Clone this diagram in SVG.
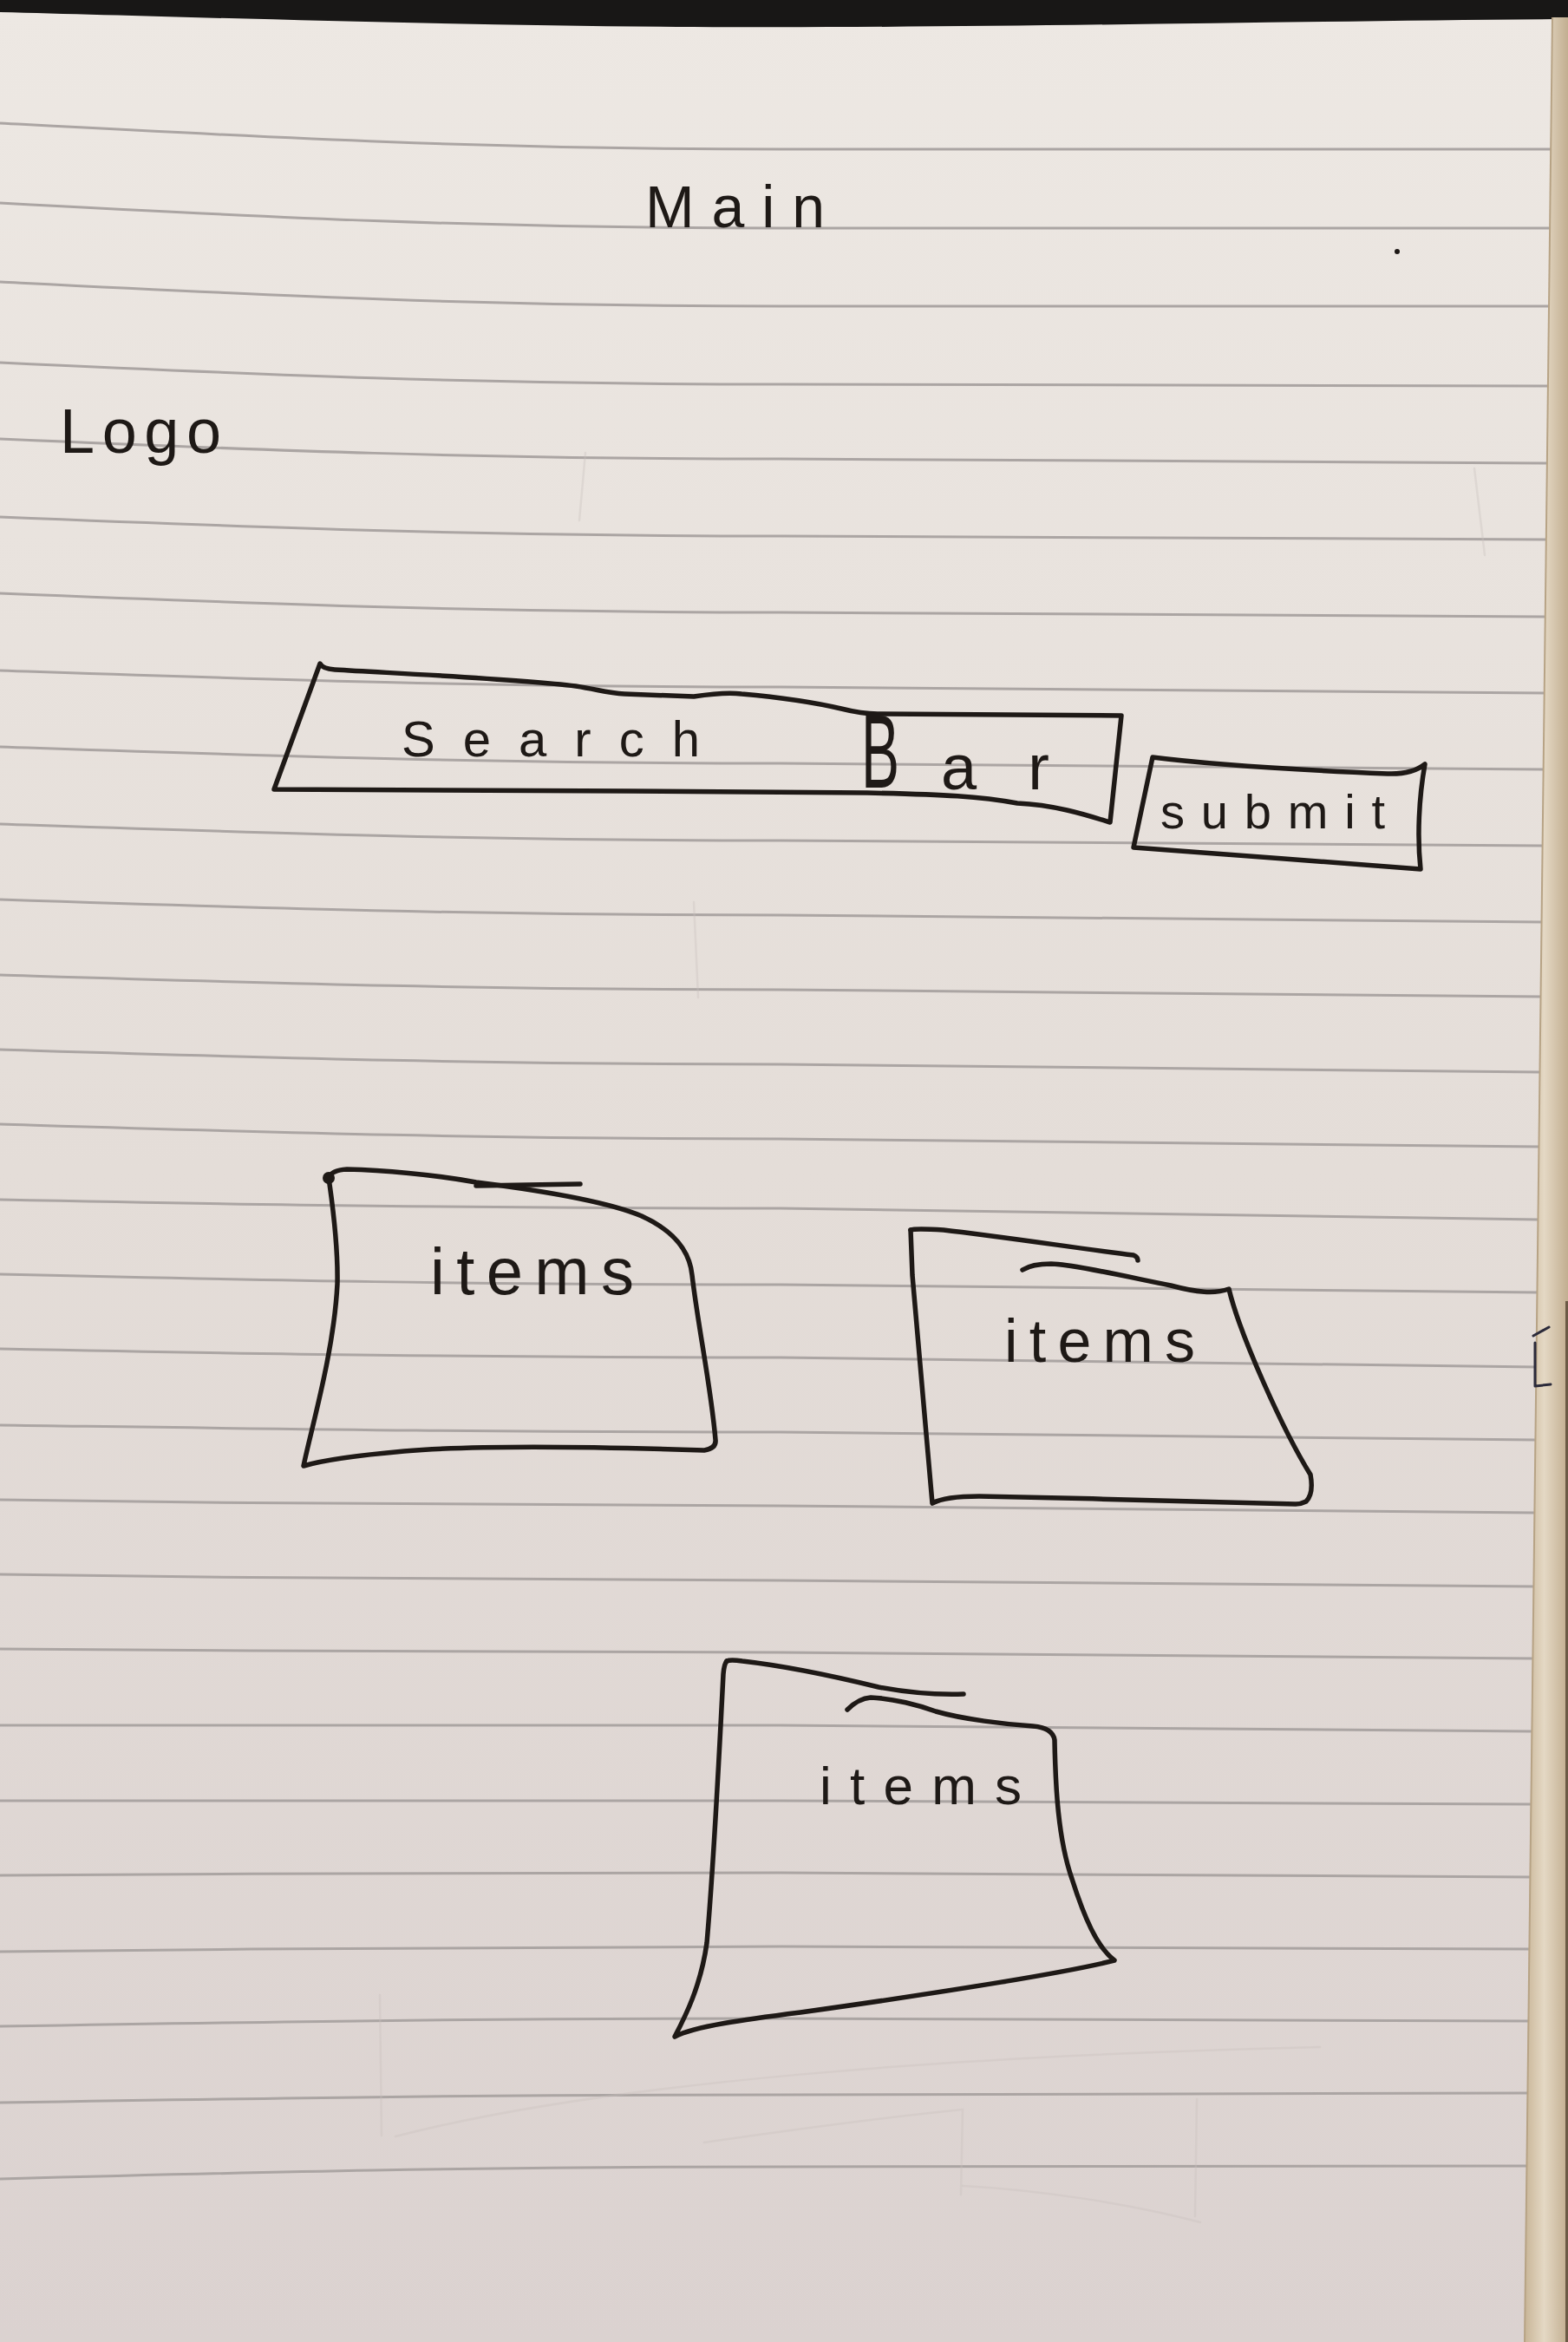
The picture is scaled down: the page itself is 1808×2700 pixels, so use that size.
<svg xmlns="http://www.w3.org/2000/svg" width="1808" height="2700" viewBox="0 0 1808 2700">
  <defs>
    <linearGradient id="paper" x1="0" y1="0" x2="0" y2="1">
      <stop offset="0" stop-color="#ede8e3"/>
      <stop offset="0.5" stop-color="#e4ddd8"/>
      <stop offset="1" stop-color="#dbd2d0"/>
    </linearGradient>
    <linearGradient id="pageEdge" x1="0" y1="0" x2="1" y2="0">
      <stop offset="0" stop-color="#c8b597"/>
      <stop offset="0.45" stop-color="#e4d8c4"/>
      <stop offset="1" stop-color="#c2ae90"/>
    </linearGradient>
    <style>
      .rule { fill: none; stroke: #aba5a3; stroke-width: 3; }
      .ghost { fill: none; stroke: #c9c1be; stroke-width: 2.5; stroke-linecap: round; opacity: 0.35; }
      .ink { fill: none; stroke: #1e1916; stroke-width: 5.5; stroke-linecap: round; stroke-linejoin: round; }
      .hand { fill: #1e1916; font-family: "Liberation Sans", "DejaVu Sans", sans-serif; font-weight: 400; }
    </style>
  </defs>

  <!-- paper -->
  <rect x="0" y="0" width="1808" height="2700" fill="url(#paper)"/>

  <!-- ruled lines of the notebook page -->
  <g id="ruled-lines">
    <path class="rule" d="M0,142 C300,158 550,172 900,172 L1788,172"/>
    <path class="rule" d="M0,234 C300,250 550,263 900,263 L1787,263"/>
    <path class="rule" d="M0,325 C300,340 550,353 900,353 L1786,353"/>
    <path class="rule" d="M0,418 C300,432 550,443 900,443 L1785,445"/>
    <path class="rule" d="M0,506 C300,519 550,529 900,529 L1784,534"/>
    <path class="rule" d="M0,596 C300,608 550,618 900,618 L1783,622"/>
    <path class="rule" d="M0,684 C300,696 550,706 900,706 L1782,711"/>
    <path class="rule" d="M0,773 C300,783 550,792 900,792 L1781,799"/>
    <path class="rule" d="M0,861 C300,871 550,880 900,880 L1780,887"/>
    <path class="rule" d="M0,950 C300,960 550,969 900,969 L1779,975"/>
    <path class="rule" d="M0,1037 C300,1047 550,1055 900,1055 L1778,1063"/>
    <path class="rule" d="M0,1124 C300,1133 550,1141 900,1141 L1777,1149"/>
    <path class="rule" d="M0,1210 C300,1219 550,1227 900,1227 L1776,1236"/>
    <path class="rule" d="M0,1296 C300,1305 550,1313 900,1313 L1775,1322"/>
    <path class="rule" d="M0,1383 C300,1389 550,1393 900,1393 L1774,1406"/>
    <path class="rule" d="M0,1469 C300,1476 550,1481 900,1481 L1773,1490"/>
    <path class="rule" d="M0,1555 C300,1561 550,1565 900,1565 L1772,1576"/>
    <path class="rule" d="M0,1643 C300,1647 550,1651 900,1651 L1771,1660"/>
    <path class="rule" d="M0,1729 C300,1733 550,1736 900,1736 L1770,1744"/>
    <path class="rule" d="M0,1815 C300,1819 550,1822 900,1822 L1769,1829"/>
    <path class="rule" d="M0,1901 C300,1903 550,1905 900,1905 L1768,1912"/>
    <path class="rule" d="M0,1989 C300,1989 550,1989 900,1989 L1767,1996"/>
    <path class="rule" d="M0,2076 C300,2076 550,2076 900,2076 L1766,2080"/>
    <path class="rule" d="M0,2162 C300,2160 550,2159 900,2159 L1766,2164"/>
    <path class="rule" d="M0,2250 C300,2247 550,2244 900,2244 L1765,2247"/>
    <path class="rule" d="M0,2336 C300,2331 550,2327 900,2327 L1764,2330"/>
    <path class="rule" d="M0,2424 C300,2419 550,2415 900,2415 L1763,2413"/>
    <path class="rule" d="M0,2512 C300,2504 550,2498 900,2498 L1762,2497"/>
  </g>

  <!-- erased pencil traces -->
  <g id="erased-pencil">
    <path class="ghost" d="M675,522 L668,600"/>
    <path class="ghost" d="M1700,540 L1712,640"/>
    <path class="ghost" d="M800,1040 L805,1150"/>
    <path class="ghost" d="M438,2300 L440,2462"/>
    <path class="ghost" d="M456,2463 C700,2400 1100,2370 1522,2360"/>
    <path class="ghost" d="M812,2470 C950,2450 1030,2440 1110,2432 L1108,2530"/>
    <path class="ghost" d="M1380,2420 L1378,2555 M1110,2520 C1200,2525 1300,2540 1384,2562"/>
  </g>

  <!-- dark table behind the top of the page -->
  <path d="M0,0 H1808 V22 C1500,24 1100,33 800,31 C500,29 200,19 0,14 Z" fill="#181716"/>

  <!-- stacked page edges on the right -->
  <path d="M1790,20 L1808,20 L1808,2700 L1758,2700 C1765,2000 1776,1200 1790,20 Z" fill="url(#pageEdge)"/>
  <path d="M1790,20 C1776,1200 1765,2000 1758,2700" fill="none" stroke="#b7a385" stroke-width="2"/>
  <rect x="1805" y="1500" width="3" height="1200" fill="#6b5a45"/>
  <path d="M1768,1540 L1786,1530 M1770,1548 L1770,1598 M1770,1598 L1788,1596" fill="none" stroke="#2b2a3a" stroke-width="3" stroke-linecap="round"/>

  <!-- stray pen dot -->
  <circle cx="1611" cy="290" r="3" fill="#1e1916"/>

  <g id="connectors"/>

  <!-- page title -->
  <g id="title-main">
    <text class="hand" x="744" y="262" font-size="68" textLength="207" lengthAdjust="spacing">Main</text>
  </g>

  <!-- logo placeholder -->
  <g id="logo">
    <text class="hand" x="69" y="522" font-size="72" textLength="186" lengthAdjust="spacing">Logo</text>
  </g>

  <!-- search input -->
  <g id="search-bar">
    <path class="ink" d="M369,765 Q372,771 386,772 C470,777 600,783 664,791 C690,795 700,799 720,800 L800,803 C820,800 840,798 855,800 C900,804 940,810 970,817 C990,822 1000,823 1012,823 L1293,825 L1280,948 C1260,942 1220,928 1173,926 C1130,918 1090,916 1000,914 L726,912 L316,910 Z"/>
    <text class="hand" x="463" y="872" font-size="58" textLength="344" lengthAdjust="spacing">Search</text>
    <text class="hand" x="993" y="908" font-size="120" textLength="44" lengthAdjust="spacingAndGlyphs">B</text>
    <text class="hand" x="1085" y="910" font-size="74" textLength="125" lengthAdjust="spacing">ar</text>
  </g>

  <!-- submit button -->
  <g id="submit-button">
    <path class="ink" d="M1329,873 C1400,882 1530,889 1600,892 Q1628,893 1643,881 C1636,920 1634,965 1638,1002 C1540,995 1400,983 1307,977 Z"/>
    <text class="hand" x="1338" y="955" font-size="56" textLength="259" lengthAdjust="spacing">submit</text>
  </g>

  <!-- item card 1 -->
  <g id="item-card-1">
    <path class="ink" d="M379,1358 Q382,1349 400,1348 C440,1349 500,1354 549,1363 C620,1372 700,1385 740,1402 C775,1418 795,1440 798,1470 C805,1530 820,1600 825,1660 Q826,1670 812,1672 C720,1669 560,1665 466,1673 C410,1678 370,1684 350,1690 C358,1650 385,1560 389,1480 C390,1430 382,1380 379,1358 Z"/>
    <path class="ink" d="M549,1367 L669,1365"/>
    <circle cx="379" cy="1358" r="7" fill="#1e1916"/>
    <text class="hand" x="496" y="1492" font-size="76" textLength="235" lengthAdjust="spacing">items</text>
  </g>

  <!-- item card 2 -->
  <g id="item-card-2">
    <path class="ink" d="M1050,1418 Q1055,1416 1088,1418 C1150,1425 1250,1440 1307,1447 Q1312,1449 1312,1453"/>
    <path class="ink" d="M1179,1464 Q1190,1457 1212,1457 C1240,1458 1300,1472 1350,1482 C1380,1490 1400,1492 1417,1486 C1430,1540 1480,1650 1511,1700 Q1515,1722 1506,1731 Q1500,1734 1494,1734 C1400,1732 1250,1727 1129,1725 Q1090,1725 1075,1733 C1070,1680 1060,1560 1052,1470 L1050,1418"/>
    <text class="hand" x="1158" y="1570" font-size="70" textLength="220" lengthAdjust="spacing">items</text>
  </g>

  <!-- item card 3 -->
  <g id="item-card-3">
    <path class="ink" d="M838,1915 Q842,1913 856,1915 C900,1920 960,1932 1013,1945 C1050,1952 1080,1954 1111,1953"/>
    <path class="ink" d="M977,1971 Q990,1958 1004,1957 C1030,1958 1060,1966 1079,1973 C1110,1982 1160,1988 1191,1990 Q1214,1992 1216,2006 C1217,2060 1220,2120 1236,2166 C1250,2210 1265,2245 1285,2260 C1240,2272 1102,2295 923,2320 C860,2328 800,2336 778,2348 C790,2325 808,2290 815,2240 C822,2160 828,2050 834,1930 Q835,1918 838,1915"/>
    <text class="hand" x="945" y="2080" font-size="62" textLength="233" lengthAdjust="spacing">items</text>
  </g>
</svg>
